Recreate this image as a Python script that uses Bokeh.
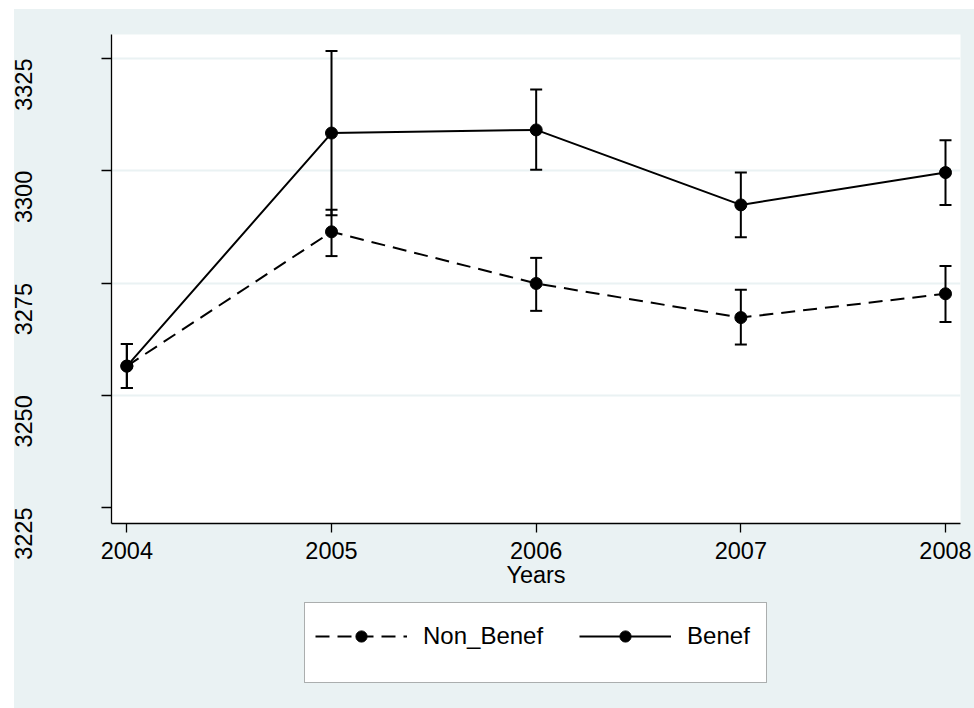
import math
from bokeh.plotting import figure
from bokeh.layouts import column
from bokeh.models import (ColumnDataSource, Whisker, TeeHead, FixedTicker, Legend, LegendItem,
                          Range1d, BoxAnnotation)
from bokeh.embed import file_html
from bokeh.resources import INLINE

years = [2004, 2005, 2006, 2007, 2008]
non_benef = [3256.5, 3286.4, 3274.9, 3267.3, 3272.6]
non_benef_lo = [3251.6, 3281.0, 3268.8, 3261.3, 3266.3]
non_benef_hi = [3261.4, 3291.3, 3280.6, 3273.5, 3278.8]
benef = [3256.5, 3308.4, 3309.1, 3292.4, 3299.6]
benef_lo = [3251.6, 3290.1, 3300.2, 3285.2, 3292.4]
benef_hi = [3261.4, 3326.7, 3318.1, 3299.6, 3306.8]
y_ticks = [3225, 3250, 3275, 3300, 3325]
grid_ticks = [3250, 3275, 3300, 3325]
series_labels = ["Non_Benef", "Benef"]
x_title = "Years"

BG = "#EAF2F3"
FONT = "Liberation Sans"
CSS_BG = {"background": "linear-gradient(to right, #ffffff 14px, %s 14px)" % BG}

src_n = ColumnDataSource(dict(x=years, y=non_benef, lo=non_benef_lo, hi=non_benef_hi))
src_b = ColumnDataSource(dict(x=years, y=benef, lo=benef_lo, hi=benef_hi))

W = 974
FL, FR = 111, 960  # frame left/right inside the figure (px)
H1 = 590
p = figure(width=W, height=H1, output_backend="svg", toolbar_location=None,
           x_range=Range1d(2003.925, 2008.0733), y_range=Range1d(3221.44, 3330.35),
           min_border_left=FL, min_border_right=W - FR, min_border_top=25,
           min_border_bottom=H1 - 514)
p.margin = (9, 0, 0, 0)
p.styles = CSS_BG
p.border_fill_color = None
p.background_fill_color = "white"
p.outline_line_color = None

# axes
p.xaxis.ticker = FixedTicker(ticks=years)
p.yaxis.ticker = FixedTicker(ticks=y_ticks)
p.xgrid.visible = False
p.ygrid.ticker = FixedTicker(ticks=grid_ticks)
p.ygrid.grid_line_color = BG
p.ygrid.grid_line_width = 2

for ax in (p.xaxis[0], p.yaxis[0]):
    ax.axis_line_color = "black"
    ax.axis_line_width = 1.3
    ax.major_tick_line_color = "black"
    ax.major_tick_line_width = 1.3
    ax.major_tick_in = 0
    ax.minor_tick_line_color = None
    ax.major_label_text_font = FONT
    ax.major_label_text_font_size = "23.5px"
    ax.major_label_text_color = "black"

p.xaxis.major_tick_out = 9
p.xaxis.major_label_standoff = 9
p.xaxis.axis_label = x_title
p.xaxis.axis_label_text_font = FONT
p.xaxis.axis_label_text_font_size = "23.5px"
p.xaxis.axis_label_text_font_style = "normal"
p.xaxis.axis_label_text_color = "black"
p.xaxis.axis_label_standoff = 0

p.yaxis.major_tick_out = 10
p.yaxis.major_label_orientation = math.pi / 2
p.yaxis.major_label_standoff = 78

# error bars
for src in (src_n, src_b):
    w = Whisker(source=src, base="x", lower="lo", upper="hi",
                line_color="black", line_width=2,
                lower_head=TeeHead(size=12, line_color="black", line_width=2),
                upper_head=TeeHead(size=12, line_color="black", line_width=2))
    p.add_layout(w)

p.line("x", "y", source=src_n, line_color="black", line_width=2, line_dash="14 8")
p.scatter("x", "y", source=src_n, size=12, color="black")
p.line("x", "y", source=src_b, line_color="black", line_width=2)
p.scatter("x", "y", source=src_b, size=12, color="black")

# legend panel below the plot (its frame is aligned with the plot frame by the column)
H2 = 708 - 9 - H1
p2 = figure(width=W, height=H2, output_backend="svg", toolbar_location=None,
            x_range=Range1d(FL, FR), y_range=Range1d(H2, 0),
            x_axis_type=None, y_axis_type=None,
            min_border_left=FL, min_border_right=W - FR, min_border_top=0, min_border_bottom=0)
p2.margin = (0, 0, 0, 0)
p2.styles = CSS_BG
p2.border_fill_color = None
p2.background_fill_color = None
p2.outline_line_color = None
p2.grid.visible = False

p2.add_layout(BoxAnnotation(left=304, right=766, top=602 - 9 - H1, bottom=682 - 9 - H1,
                            fill_color="white", fill_alpha=1,
                            line_color="black", line_width=1, level="underlay"))

# legend glyphs use the same series (they fall outside this panel's view)
ln = p2.line("x", "y", source=src_n, line_color="black", line_width=2, line_dash="14 8")
sn = p2.scatter("x", "y", source=src_n, size=12, color="black")
lb = p2.line("x", "y", source=src_b, line_color="black", line_width=2)
sb = p2.scatter("x", "y", source=src_b, size=12, color="black")

legend = Legend(items=[LegendItem(label=series_labels[0], renderers=[ln, sn]),
                       LegendItem(label=series_labels[1], renderers=[lb, sb])],
                orientation="horizontal", location=(315 - FL, 58),
                glyph_width=92, glyph_height=28, label_height=28, label_standoff=16, spacing=36,
                padding=0, margin=0,
                border_line_color=None, background_fill_alpha=0,
                label_text_font=FONT, label_text_font_size="24px", label_text_color="black")
p2.add_layout(legend, "center")

open("out.html", "w").write(file_html(column(p, p2, spacing=0), INLINE))
